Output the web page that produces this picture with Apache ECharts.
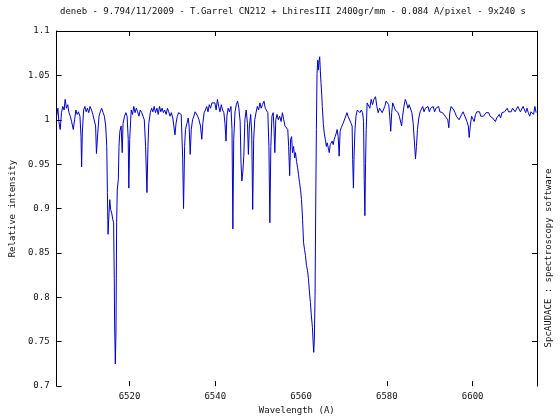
<!DOCTYPE html>
<html>
<head>
<meta charset="utf-8">
<script src="https://cdn.jsdelivr.net/npm/echarts@6/dist/echarts.min.js"></script>
<style>
  html, body { margin: 0; padding: 0; background: #fff; }
  #chart { width: 560px; height: 420px; }
</style>
</head>
<body>
<div id="chart"></div>
<script>
const TITLE = 'deneb - 9.794/11/2009 - T.Garrel CN212 + LhiresIII 2400gr/mm - 0.084 A/pixel - 9x240 s';
const SOFTWARE = 'SpcAUDACE : spectroscopy software';
const FONT = 'DejaVu Sans Mono';

// tick positions
const xTicks = [6520, 6540, 6580, 6600];
const xTickLabels = [6520, 6540, 6560, 6580, 6600];
const yRightTicks = [0.75, 0.85, 0.95, 1.05];

// spectrum [wavelength A, relative intensity], blue side
const specBlue = [
  [6503.0,1.004],[6503.3,1.013],[6503.53,0.998],[6503.84,0.989],[6504.15,1.008],[6504.45,1.015],
  [6504.76,1.011],[6505.0,1.023],[6505.3,1.013],[6505.6,1.017],[6505.9,1.008],[6506.2,1.004],
  [6506.5,0.998],[6506.9,0.989],[6507.2,1.000],[6507.5,1.011],[6507.8,1.006],[6508.1,1.009],
  [6508.45,1.004],[6508.7,0.981],[6508.84,0.947],[6509.0,0.985],[6509.3,1.011],[6509.6,1.015],
  [6509.9,1.009],[6510.2,1.013],[6510.5,1.008],[6510.8,1.015],[6511.15,1.011],[6511.45,1.006],
  [6511.75,1.008],[6512.1,0.993],[6512.3,0.962],[6512.6,0.985],[6512.9,1.004],[6513.2,1.009],
  [6513.5,1.013],[6513.85,1.008],[6514.15,1.004],[6514.45,0.993],[6514.7,0.970],[6514.85,0.918],
  [6515.0,0.871],[6515.15,0.888],[6515.4,0.910],[6515.6,0.899],[6515.85,0.895],[6516.1,0.888],
  [6516.3,0.884],[6516.45,0.821],[6516.53,0.770],[6516.7,0.725],[6516.85,0.761],[6517.0,0.884],
  [6517.15,0.921],[6517.4,0.933],[6517.55,0.970],[6517.75,0.987],[6518.05,0.993],[6518.3,0.963],
  [6518.5,0.996],[6518.85,1.004],[6519.15,1.008],[6519.45,1.004],[6519.7,0.978],[6519.84,0.923],
  [6520.05,0.978],[6520.4,1.011],[6520.7,1.006],[6521.0,1.015],[6521.3,1.008],[6521.6,1.013],
  [6521.9,1.009],[6522.2,1.004],[6522.5,1.011],[6522.85,1.008],[6523.15,1.004],[6523.45,1.000],
  [6523.75,0.970],[6524.07,0.918],[6524.3,0.970],[6524.5,0.996],[6524.85,1.008],[6525.15,1.013],
  [6525.45,1.009],[6525.75,1.015],[6526.05,1.008],[6526.4,1.013],[6526.7,1.006],[6527.0,1.015],
  [6527.3,1.009],[6527.6,1.013],[6527.9,1.008],[6528.2,1.011],[6528.55,1.006],[6528.85,1.013],
  [6529.15,1.009],[6529.45,1.004],[6529.75,1.008],[6530.1,1.002],[6530.4,1.000],[6530.6,0.983],
  [6530.85,0.996],[6531.15,1.004],[6531.45,1.008],[6531.75,1.009],[6532.05,1.006],[6532.4,0.957],
  [6532.6,0.900],[6532.85,0.970],[6533.05,0.989],[6533.4,0.996],[6533.7,1.002],[6533.9,0.993],
  [6534.15,0.961],[6534.4,0.989],[6534.7,1.000],[6535.0,1.004],[6535.3,1.009],[6535.6,1.008],
  [6535.9,1.004],[6536.2,1.000],[6536.55,0.993],[6536.85,0.978],[6537.1,0.996],[6537.4,1.008],
  [6537.7,1.011],[6538.0,1.015],[6538.3,1.009],[6538.6,1.017],[6538.9,1.013],[6539.2,1.019]
];

// H-alpha region
const specHalpha = [
  [6539.9,1.019],[6540.2,1.011],[6540.5,1.023],[6540.8,1.015],[6541.1,1.009],[6541.4,1.017],
  [6541.7,1.011],[6542.0,1.008],[6542.26,0.996],[6542.5,0.976],[6542.7,1.004],[6543.0,1.013],
  [6543.3,1.009],[6543.65,1.015],[6543.9,0.989],[6544.1,0.877],[6544.3,0.978],[6544.6,1.009],
  [6544.9,1.017],[6545.2,1.021],[6545.5,1.013],[6545.8,0.998],[6546.0,0.951],[6546.2,0.931],
  [6546.4,0.940],[6546.65,0.959],[6546.9,1.000],[6547.2,1.011],[6547.5,0.996],[6547.72,0.961],
  [6547.95,0.993],[6548.25,1.006],[6548.5,0.985],[6548.72,0.899],[6548.95,0.978],[6549.2,1.000],
  [6549.5,1.008],[6549.8,1.015],[6550.1,1.011],[6550.4,1.019],[6550.7,1.013],[6551.0,1.017],
  [6551.35,1.021],[6551.65,1.013],[6551.95,1.011],[6552.25,1.008],[6552.5,0.970],[6552.72,0.884],
  [6552.95,0.970],[6553.2,1.004],[6553.5,1.008],[6553.7,0.989],[6553.88,0.963],[6554.1,1.000],
  [6554.4,1.006],[6554.7,1.000],[6555.0,1.004],[6555.35,0.998],[6555.65,1.008],[6555.95,1.000],
  [6556.25,0.993],[6556.6,0.991],[6556.9,0.989],[6557.1,0.970],[6557.34,0.937],[6557.56,0.978],
  [6557.8,0.981],[6558.0,0.963],[6558.26,0.970],[6558.5,0.957],[6558.7,0.963],[6558.95,0.953],
  [6559.2,0.946],[6559.4,0.938],[6559.65,0.929],[6559.9,0.920],[6560.1,0.910],[6560.35,0.888],
  [6560.57,0.862],[6560.8,0.854],[6561.03,0.847],[6561.26,0.836],[6561.5,0.830],[6561.72,0.821],
  [6561.95,0.806],[6562.18,0.794],[6562.4,0.779],[6562.65,0.766],[6562.8,0.750],[6562.95,0.738],
  [6563.1,0.753],[6563.26,0.802],[6563.4,0.895],[6563.57,0.989],[6563.72,1.052],[6563.88,1.067],
  [6564.03,1.056],[6564.18,1.066],[6564.34,1.071],[6564.5,1.054],[6564.65,1.041],[6564.8,1.030],
  [6564.95,1.015],[6565.18,0.996],[6565.4,0.985],[6565.65,0.978],[6565.9,0.970],[6566.1,0.974],
  [6566.35,0.968],[6566.57,0.963],[6566.8,0.972],[6567.0,0.974],[6567.26,0.976],[6567.5,0.972],
  [6567.72,0.978],[6567.95,0.981],[6568.2,0.985],[6568.4,0.989],[6568.65,0.981],[6568.88,0.959],
  [6569.1,0.987],[6569.35,0.991],[6569.6,0.993],[6569.8,0.996],[6570.03,0.998],[6570.26,1.002],
  [6570.5,1.000],[6570.7,1.008],[6570.95,1.004],[6571.2,1.002],[6571.4,1.006],[6571.65,0.996],
  [6571.9,0.993],[6572.03,0.955],[6572.2,0.923],[6572.35,0.959],[6572.57,0.989],[6572.8,1.004],
  [6573.1,1.011],[6573.4,1.013],[6573.72,1.008],[6574.03,1.011],[6574.34,1.008],[6574.57,0.998],
  [6574.72,0.933],[6574.88,0.892],[6575.03,0.951],[6575.18,0.989],[6575.4,1.019],[6575.72,1.021],
  [6576.03,1.013],[6576.34,1.023],[6576.65,1.017]
];

// red side
const specRed = [
  [6576.98,1.023],[6577.36,1.026],[6577.67,1.015],[6577.98,1.008],[6578.3,1.013],[6578.6,1.011],
  [6578.9,1.008],[6579.2,1.009],[6579.52,1.015],[6579.83,1.021],[6580.13,1.023],[6580.44,1.017],
  [6580.67,1.004],[6580.9,0.987],[6581.13,1.008],[6581.36,1.019],[6581.67,1.015],[6581.98,1.011],
  [6582.3,1.013],[6582.6,1.008],[6582.9,1.004],[6583.2,1.002],[6583.44,0.993],[6583.67,1.004],
  [6583.98,1.015],[6584.3,1.023],[6584.6,1.019],[6584.9,1.013],[6585.2,1.017],[6585.52,1.015],
  [6585.83,1.008],[6586.13,0.996],[6586.44,0.974],[6586.67,0.956],[6586.9,0.970],[6587.13,0.989],
  [6587.44,1.002],[6587.75,1.009],[6588.06,1.011],[6588.36,1.015],[6588.67,1.009],[6588.98,1.013],
  [6589.3,1.011],[6589.6,1.015],[6589.9,1.009],[6590.2,1.013],[6590.5,1.011],[6590.8,1.015],
  [6591.13,1.009],[6591.44,1.013],[6591.75,1.011],[6592.06,1.015],[6592.36,1.009],[6592.67,1.011],
  [6592.98,1.008],[6593.3,1.009],[6593.6,1.004],[6593.9,1.004],[6594.2,1.000],[6594.44,0.991],
  [6594.67,1.008],[6594.98,1.015],[6595.3,1.013],[6595.6,1.011],[6595.9,1.008],[6596.2,1.004],
  [6596.52,1.002],[6596.83,1.000],[6597.13,1.002],[6597.44,1.006],[6597.75,1.009],[6598.06,1.008],
  [6598.36,1.002],[6598.67,0.998],[6598.98,0.993],[6599.2,0.980],[6599.44,0.993],[6599.75,1.004],
  [6600.06,1.004],[6600.36,0.998],[6600.67,1.006],[6600.98,1.009],[6601.3,1.011],[6601.6,1.009],
  [6601.9,1.004],[6602.2,1.002],[6602.52,1.004],[6602.83,1.006],[6603.13,1.008],[6603.44,1.009],
  [6603.75,1.008],[6604.06,1.004],[6604.36,1.004],[6604.67,1.002],[6604.98,1.000],[6605.3,0.998],
  [6605.6,1.002],[6605.9,1.004],[6606.2,1.006],[6606.52,1.002],[6606.83,1.008],[6607.13,1.009],
  [6607.44,1.009],[6607.75,1.011],[6608.06,1.013],[6608.36,1.009],[6608.67,1.008],[6608.98,1.009],
  [6609.3,1.013],[6609.6,1.011],[6609.9,1.009],[6610.2,1.011],[6610.52,1.015],[6610.83,1.017],
  [6611.13,1.009],[6611.44,1.011],[6611.75,1.015],[6612.06,1.013],[6612.36,1.008],[6612.67,1.013],
  [6612.98,1.008],[6613.3,1.004],[6613.6,1.009],[6613.9,1.008],[6614.2,1.006],[6614.5,1.015],
  [6614.8,1.008]
];

const spectrum = specBlue.concat(specHalpha, specRed);

const chart = echarts.init(document.getElementById('chart'), null, { renderer: 'canvas' });

const axisText = { color: '#111', fontFamily: FONT, fontSize: 9 };
const blackLine = { color: '#000', width: 1 };

chart.setOption({
  animation: false,
  backgroundColor: '#fff',
  grid: { left: 53, right: 23, top: 31, bottom: 32 },
  xAxis: [{
    type: 'value',
    min: 6503,
    max: 6615,
    position: 'bottom',
    name: 'Wavelength (A)',
    nameLocation: 'middle',
    nameGap: 19,
    nameTextStyle: axisText,
    axisLine: { show: false },
    axisTick: { show: true, inside: true, length: 5, customValues: xTicks, lineStyle: blackLine },
    axisLabel: Object.assign({ customValues: xTickLabels, margin: 6, formatter: (v) => String(v) }, axisText),
    splitLine: { show: false }
  }, {
    type: 'value',
    min: 6503,
    max: 6615,
    position: 'top',
    axisLine: { show: true, lineStyle: blackLine },
    axisTick: { show: true, inside: true, length: 5, customValues: xTicks, lineStyle: blackLine },
    axisLabel: { show: false },
    splitLine: { show: false }
  }],
  yAxis: [{
    type: 'value',
    min: 0.7,
    max: 1.1,
    interval: 0.05,
    position: 'left',
    name: 'Relative intensity',
    nameLocation: 'middle',
    nameGap: 36,
    nameTextStyle: axisText,
    axisLine: { show: true, lineStyle: blackLine },
    axisTick: { show: true, inside: true, length: 5, lineStyle: blackLine },
    axisLabel: Object.assign({ margin: 7, formatter: (v) => String(+v.toFixed(2)) }, axisText),
    splitLine: { show: false }
  }, {
    type: 'value',
    min: 0.7,
    max: 1.1,
    position: 'right',
    axisLine: { show: true, lineStyle: blackLine },
    axisTick: { show: true, inside: true, length: 5, customValues: yRightTicks, lineStyle: blackLine },
    axisLabel: { show: false },
    splitLine: { show: false }
  }],
  graphic: [{
    type: 'text',
    x: 293,
    y: 12,
    style: { text: TITLE, fill: '#111', font: '9px "' + FONT + '"', textAlign: 'center', textVerticalAlign: 'middle' }
  }, {
    type: 'text',
    x: 549,
    y: 258,
    rotation: Math.PI / 2,
    style: { text: SOFTWARE, fill: '#111', font: '9px "' + FONT + '"', textAlign: 'center', textVerticalAlign: 'middle' }
  }],
  series: [{
    type: 'line',
    xAxisIndex: 0,
    yAxisIndex: 0,
    data: spectrum,
    showSymbol: false,
    symbol: 'none',
    sampling: 'none',
    lineStyle: { color: '#0000c8', width: 1 },
    silent: true
  }]
});
</script>
</body>
</html>
